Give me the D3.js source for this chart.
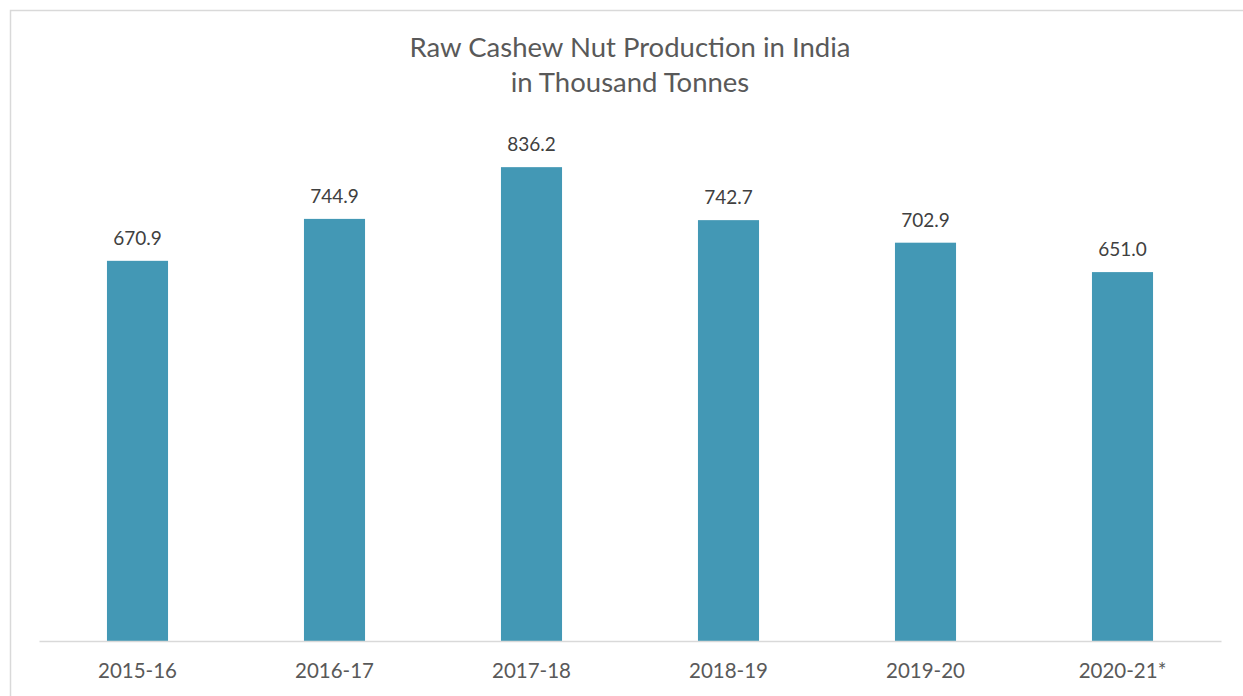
<!DOCTYPE html>
<html><head><meta charset="utf-8">
<script src="https://cdn.jsdelivr.net/npm/d3@7"></script>
<style>body{margin:0;background:#fff;}svg{display:block;font-family:Lato,"Open Sans",sans-serif;}</style>
</head><body><svg id="c" width="1243" height="696"></svg>
<script>
const categories = ["2015-16","2016-17","2017-18","2018-19","2019-20","2020-21*"];
const values = [670.9, 744.9, 836.2, 742.7, 702.9, 651.0];
const titleLines = ["Raw Cashew Nut Production in India","in Thousand Tonnes"];

const svg = d3.select("#c");
svg.append("rect").attr("x",10.5).attr("y",10.5).attr("width",1250).attr("height",700)
  .attr("fill","#fff").attr("stroke","#d9d9d9").attr("stroke-width",1.5);

const x = d3.scaleBand().domain(categories).range([39,1221]).paddingInner(0.69).paddingOuter(0.345);
const y = d3.scaleLinear().domain([0,900]).range([641,131]);

svg.selectAll("rect.bar").data(values).enter().append("rect").attr("class","bar")
  .attr("x",(d,i)=>x(categories[i])).attr("width",x.bandwidth())
  .attr("y",d=>y(d)).attr("height",d=>y(0)-y(d)).attr("fill","#4398b5");

svg.selectAll("text.val").data(values).enter().append("text").attr("class","val")
  .attr("x",(d,i)=>x(categories[i])+x.bandwidth()/2).attr("y",d=>y(d)-16)
  .attr("text-anchor","middle").attr("font-size",19).attr("fill","#404040")
  .text(d=>d.toFixed(1));

const xAxis = svg.append("g").attr("transform","translate(0,641)")
  .call(d3.axisBottom(x).tickSize(0).tickPadding(0));
xAxis.select(".domain").attr("stroke","#d9d9d9").attr("stroke-width",1.5);
xAxis.selectAll("text").attr("font-size",20.5).attr("fill","#595959")
  .attr("font-family","Lato,'Open Sans',sans-serif").attr("dy",0).attr("y",37);

svg.append("text").attr("x",630).attr("y",57).attr("text-anchor","middle")
  .attr("font-size",27.5).attr("fill","#595959")
  .selectAll("tspan").data(titleLines).enter().append("tspan")
  .attr("x",630).attr("dy",(d,i)=>i?35:0).text(d=>d);
</script></body></html>
